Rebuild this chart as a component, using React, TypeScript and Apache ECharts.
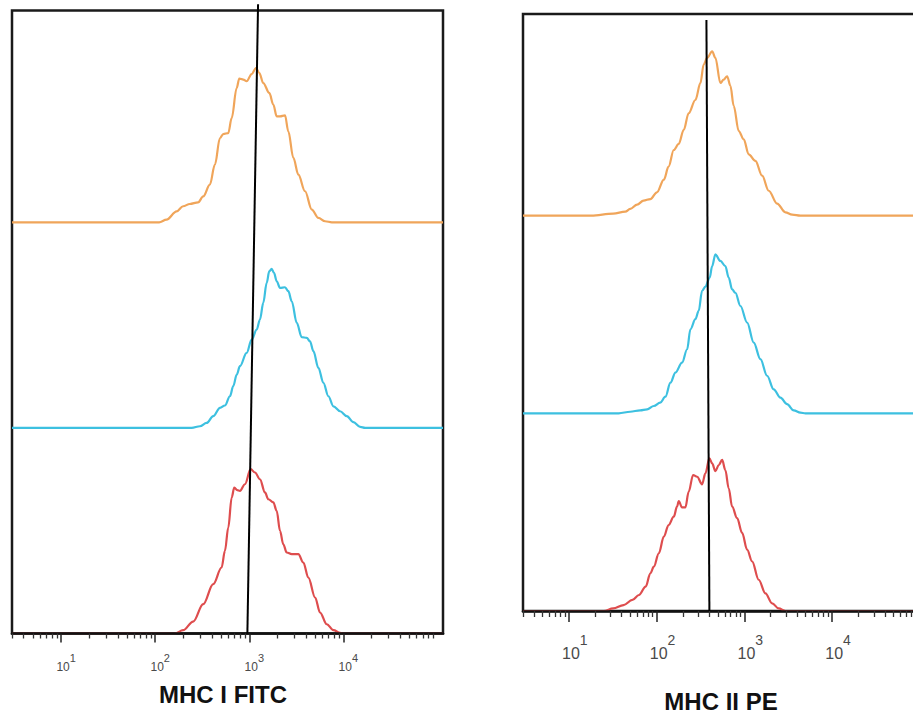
import React, { useEffect, useRef } from "react";
import * as echarts from "echarts";

// ---- axis ----
const AXIS_MIN = 3; // lowest intensity shown
const AXIS_MAX_LOG = 5.06;
const DECADES = [1, 2, 3, 4]; // labelled decades 10^1..10^4
const MINOR_MULT = [2, 3, 4, 5, 6, 7, 8, 9];

// ---- MHC I FITC (left panel) ----
const fitcOrangeX = [110, 132, 169, 198, 233, 286, 324, 381, 431, 488, 529, 598, 650, 735, 783, 864, 938, 1061, 1178, 1279, 1409, 1633, 1802, 1958, 2123, 2400, 2602, 2943, 3327, 3917, 4621, 5433, 6398, 7551];
const fitcOrangeY = [0, 1.3, 5.3, 7.8, 8.9, 9.7, 12.6, 18.3, 28, 41, 42.9, 43.4, 50.7, 65.3, 69.9, 69.4, 68.6, 72.1, 75, 72.6, 67.7, 62.9, 57.2, 51.5, 51.5, 52, 44.2, 31.3, 23.2, 15.1, 6.2, 2.1, 0.5, 0];

const fitcCyanX = [244, 299, 352, 414, 488, 551, 623, 676, 735, 796, 938, 1061, 1199, 1300, 1409, 1531, 1633, 1730, 1832, 1958, 2123, 2400, 2602, 2829, 3199, 3614, 4085, 4426, 4806, 5433, 6140, 6938, 7848, 9247, 10890, 12800, 15100, 17060];
const fitcCyanY = [0, 0.8, 2.4, 5.7, 9.7, 10.9, 15.4, 20.3, 25.9, 30, 36.5, 42.9, 47.8, 52.7, 60.8, 70.5, 76.2, 77.3, 75.4, 71.3, 68.1, 68.4, 66.5, 61.6, 51.1, 44.1, 43.8, 42.1, 37.3, 29.2, 21.9, 15.4, 10.5, 8.1, 5.7, 2.8, 0.5, 0];

const fitcRedX = [162, 198, 253, 324, 414, 508, 551, 598, 650, 693, 745, 796, 899, 1035, 1151, 1300, 1469, 1595, 1802, 1958, 2123, 2301, 2500, 2829, 3327, 3758, 4248, 5012, 5662, 6668, 7848, 9247, 10020];
const fitcRedY = [0, 1.6, 5.8, 14.3, 24, 32.1, 40.2, 51.5, 66.1, 71, 69.7, 69.4, 72.6, 79.9, 78.3, 75, 68.6, 65.3, 63.8, 59.6, 49.9, 43.4, 39.4, 38.6, 38.6, 34.5, 27.2, 17.5, 10.2, 4.5, 1.6, 0.3, 0];

const fitcMarkerX = [1240, 955]; // top, bottom
const fitcMarkerY = [306, 0];

// ---- MHC II PE (right panel) ----
const peOrangeX = [18, 32, 44, 50, 60, 71, 85, 101, 121, 137, 157, 179, 204, 232, 277, 316, 344, 377, 430, 468, 534, 582, 637, 695, 757, 864, 985, 1122, 1339, 1596, 1898, 2366, 2942, 3508, 4365];
const peOrangeY = [0, 1, 2, 3.4, 5.6, 7.6, 8.4, 11.8, 18.2, 24.8, 33.2, 36.3, 43.4, 51.8, 58.5, 67, 76.4, 79.8, 83.1, 79.8, 67.1, 68.8, 70.5, 65.6, 55.5, 42.8, 38.6, 31, 27.7, 20.2, 12.6, 6.1, 1.7, 0.5, 0];

const peCyanX = [37, 50, 65, 78, 93, 110, 126, 144, 164, 195, 223, 243, 277, 302, 330, 360, 403, 430, 468, 534, 608, 664, 726, 791, 903, 1077, 1280, 1527, 1820, 2164, 2581, 3075, 3659, 4365, 4978];
const peCyanY = [0, 0.8, 1.5, 2, 3.7, 5.4, 8.4, 15.5, 20.6, 25.6, 32.4, 42.5, 47.6, 51.8, 61.9, 64.1, 68.6, 74.5, 80.4, 77.1, 74.5, 68.6, 62.7, 61, 54.3, 45.9, 35.8, 27.4, 19, 12.1, 7.9, 4.6, 1.5, 0.3, 0];

const peRedX = [25, 32, 42, 53, 63, 75, 85, 93, 106, 121, 137, 157, 171, 179, 195, 213, 232, 261, 290, 330, 360, 400, 430, 468, 511, 559, 608, 664, 726, 828, 944, 1077, 1227, 1459, 1742, 2075, 2466, 2942];
const peRedY = [0, 1.3, 3, 5.6, 8.1, 12.3, 19.1, 22.4, 29.2, 37.6, 43.5, 47.7, 52.8, 55.6, 52.4, 52.4, 60.3, 68.8, 67.9, 64.1, 69.6, 77.2, 74.7, 70.8, 73.8, 76.4, 71.3, 62.1, 52.8, 47, 39.5, 31, 25.1, 15.8, 8.9, 3.9, 1.3, 0];

const peMarkerX = [370, 400];
const peMarkerY = [299, 0];

const titles = ["MHC I FITC", "MHC II PE"];

const ORANGE = "#F0A55A";
const CYAN = "#3DC0E0";
const RED = "#DE4D4E";
const FONT = "'Liberation Sans', Arial, sans-serif";

const LOG_MIN = Math.log10(AXIS_MIN);
const minorTicks: number[] = [];
for (let d = 0; d <= 4; d++) {
  for (const m of MINOR_MULT) {
    const v = Math.log10(m) + d;
    if (v >= LOG_MIN && v <= AXIS_MAX_LOG) minorTicks.push(v);
  }
}

function curve(xs: number[], ys: number[], offset: number, color: string, xi: number, yi: number) {
  const data: number[][] = [[LOG_MIN, offset]];
  xs.forEach((x, i) => data.push([Math.log10(x), ys[i] + offset]));
  data.push([AXIS_MAX_LOG, offset]);
  return {
    type: "line",
    xAxisIndex: xi,
    yAxisIndex: yi,
    data,
    symbol: "none",
    showSymbol: false,
    smooth: 0.35,
    smoothMonotone: "x",
    lineStyle: { color, width: 2.2 },
    silent: true,
    z: 3,
  };
}

function marker(xs: number[], ys: number[], xi: number, yi: number) {
  return {
    type: "line",
    xAxisIndex: xi,
    yAxisIndex: yi,
    data: xs.map((x, i) => [Math.log10(x), ys[i]]),
    symbol: "none",
    clip: false,
    lineStyle: { color: "#000", width: 2 },
    silent: true,
    z: 5,
  };
}

function xAxes(gridIndex: number, big: boolean) {
  const base = {
    type: "value",
    gridIndex,
    min: LOG_MIN,
    max: AXIS_MAX_LOG,
    position: "bottom",
    splitLine: { show: false },
  };
  return [
    {
      ...base,
      axisLine: { show: true, onZero: false, lineStyle: { color: "#111", width: 2.5 } },
      axisTick: {
        show: true,
        inside: false,
        length: big ? 6 : 5,
        customValues: minorTicks,
        lineStyle: { color: "#333", width: 1.3 },
      },
      axisLabel: {
        show: true,
        customValues: DECADES,
        margin: big ? 22 : 18.5,
        padding: [0, 0, 0, big ? 12 : 10],
        formatter: (v: number) => `{b|10}{s|${Math.round(v)}}`,
        rich: {
          b: { fontSize: big ? 16 : 12, color: "#4a4a4a", fontFamily: FONT },
          s: { fontSize: big ? 14 : 11, color: "#4a4a4a", fontFamily: FONT, padding: [0, 0, big ? 27 : 18, 0] },
        },
      },
      z: 4,
    },
    {
      ...base,
      axisLine: { show: false, onZero: false },
      axisTick: {
        show: true,
        inside: false,
        length: big ? 11 : 9,
        customValues: DECADES,
        lineStyle: { color: "#222", width: 1.5 },
      },
      axisLabel: { show: false },
      z: 4,
    },
  ];
}

export default function App() {
  const ref = useRef<HTMLDivElement>(null);
  useEffect(() => {
    if (!ref.current) return;
    const chart = echarts.init(ref.current, undefined, { renderer: "svg" });
    chart.setOption({
      animation: false,
      backgroundColor: "#fff",
      grid: [
        { left: 12, top: 10.5, width: 431, height: 623, show: true, borderColor: "#1a1a1a", borderWidth: 2.5, backgroundColor: "transparent", z: 1 },
        { left: 523, top: 14, width: 402, height: 597, show: true, borderColor: "#1a1a1a", borderWidth: 2.5, backgroundColor: "transparent", z: 1 },
      ],
      xAxis: [...xAxes(0, false), ...xAxes(1, true)],
      yAxis: [
        { type: "value", gridIndex: 0, min: 0, max: 303, show: false },
        { type: "value", gridIndex: 1, min: 0, max: 302, show: false },
      ],
      title: [
        { text: titles[0], left: 223, top: 682, textAlign: "center", padding: 0, textStyle: { fontSize: 24, fontWeight: "bold", color: "#111", fontFamily: FONT } },
        { text: titles[1], left: 721, top: 689, textAlign: "center", padding: 0, textStyle: { fontSize: 24, fontWeight: "bold", color: "#111", fontFamily: FONT } },
      ],
      series: [
        curve(fitcOrangeX, fitcOrangeY, 200, ORANGE, 0, 0),
        curve(fitcCyanX, fitcCyanY, 100, CYAN, 0, 0),
        curve(fitcRedX, fitcRedY, 0, RED, 0, 0),
        marker(fitcMarkerX, fitcMarkerY, 0, 0),
        curve(peOrangeX, peOrangeY, 200, ORANGE, 2, 1),
        curve(peCyanX, peCyanY, 100, CYAN, 2, 1),
        curve(peRedX, peRedY, 0, RED, 2, 1),
        marker(peMarkerX, peMarkerY, 2, 1),
      ],
    });
    return () => chart.dispose();
  }, []);
  return (
    <div style={{ position: "fixed", left: 0, top: 0, width: 913, height: 713, overflow: "hidden", background: "#fff" }}>
      <div ref={ref} style={{ width: 940, height: 713 }} />
    </div>
  );
}
